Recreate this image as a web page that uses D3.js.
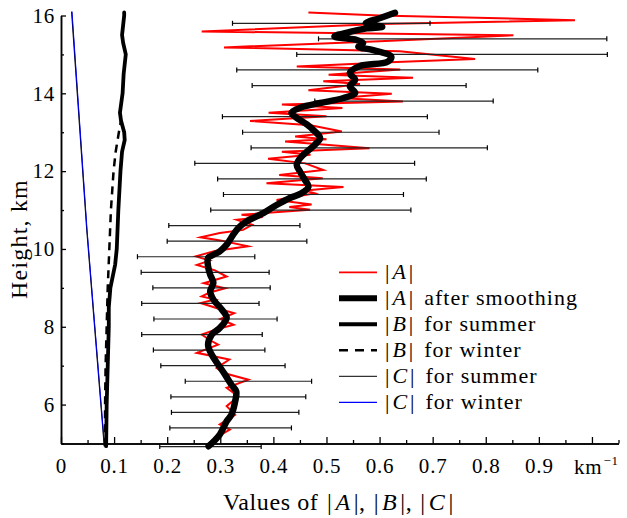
<!DOCTYPE html>
<html>
<head>
<meta charset="utf-8">
<script src="https://cdn.jsdelivr.net/npm/d3@7"></script>
<style>
  body { margin: 0; background: #fff; }
</style>
</head>
<body>
<div id="chart"></div>
<script>
// [height km, value km^-1]
const aRaw = [
  [16.08, 0.466], [16.00, 0.60], [15.88, 0.968], [15.78, 0.60], [15.59, 0.265],
  [15.49, 0.852], [15.34, 0.60], [15.18, 0.307], [15.08, 0.638], [14.88, 0.780],
  [14.80, 0.62], [14.69, 0.444], [14.61, 0.639], [14.48, 0.504], [14.40, 0.663],
  [14.31, 0.494], [14.24, 0.563], [14.08, 0.466], [13.99, 0.623], [13.88, 0.525],
  [13.79, 0.644], [13.71, 0.416], [13.62, 0.53], [13.50, 0.391], [13.41, 0.50],
  [13.29, 0.356], [13.18, 0.47], [13.02, 0.529], [12.89, 0.441], [12.82, 0.50],
  [12.76, 0.422], [12.59, 0.581], [12.50, 0.416], [12.42, 0.47], [12.32, 0.390],
  [12.20, 0.46], [12.03, 0.494], [11.90, 0.411], [11.82, 0.493], [11.69, 0.387],
  [11.59, 0.532], [11.50, 0.46], [11.43, 0.478], [11.26, 0.406], [11.14, 0.472],
  [11.08, 0.43], [11.01, 0.469], [10.88, 0.340], [10.82, 0.38], [10.75, 0.331],
  [10.62, 0.36], [10.49, 0.343], [10.41, 0.299], [10.30, 0.263], [10.22, 0.30],
  [10.07, 0.352], [9.95, 0.29], [9.81, 0.254], [9.70, 0.28], [9.59, 0.256],
  [9.45, 0.29], [9.29, 0.312], [9.12, 0.269], [8.99, 0.309], [8.88, 0.28],
  [8.78, 0.265], [8.70, 0.29], [8.61, 0.263], [8.45, 0.30], [8.35, 0.326],
  [8.20, 0.30], [8.05, 0.325], [7.92, 0.29], [7.80, 0.265], [7.66, 0.28],
  [7.54, 0.296], [7.33, 0.256], [7.16, 0.317], [6.94, 0.293], [6.80, 0.31],
  [6.64, 0.353], [6.43, 0.312], [6.21, 0.334], [5.96, 0.312], [5.74, 0.328],
  [5.49, 0.299], [5.36, 0.318], [5.14, 0.290], [4.93, 0.281]
];

const aSmooth = [
  [4.93, 0.278], [5.23, 0.299], [5.57, 0.312], [5.74, 0.321], [6.08, 0.328],
  [6.34, 0.330], [6.51, 0.321], [6.77, 0.309], [7.03, 0.296], [7.28, 0.284],
  [7.54, 0.277], [7.80, 0.284], [7.97, 0.299], [8.23, 0.312], [8.44, 0.303],
  [8.70, 0.287], [8.91, 0.281], [9.13, 0.287], [9.34, 0.281], [9.55, 0.277],
  [9.77, 0.277], [9.85, 0.287], [9.94, 0.299], [10.11, 0.312], [10.36, 0.324],
  [10.54, 0.334], [10.71, 0.350], [10.92, 0.381], [11.13, 0.406], [11.31, 0.431],
  [11.43, 0.453], [11.60, 0.466], [11.78, 0.459], [11.99, 0.450], [12.16, 0.444],
  [12.33, 0.450], [12.50, 0.463], [12.68, 0.478], [12.85, 0.488], [13.06, 0.475],
  [13.20, 0.463], [13.37, 0.444], [13.50, 0.434], [13.63, 0.450], [13.75, 0.488],
  [13.88, 0.532], [14.01, 0.554], [14.18, 0.544], [14.35, 0.554], [14.52, 0.544],
  [14.70, 0.563], [14.81, 0.615], [14.94, 0.622], [15.11, 0.588], [15.20, 0.560],
  [15.29, 0.569], [15.37, 0.557], [15.46, 0.515], [15.58, 0.544], [15.67, 0.576],
  [15.71, 0.605], [15.80, 0.574], [15.93, 0.600], [16.07, 0.629]
];

const bSummer = [
  [4.93, 0.085], [6, 0.086], [7, 0.088], [8, 0.090], [8.5, 0.090], [9, 0.093],
  [9.6, 0.102], [10, 0.105], [11, 0.108], [12, 0.112], [12.5, 0.115], [12.8, 0.120],
  [13.0, 0.119], [13.3, 0.113], [13.5, 0.111], [14, 0.116], [14.5, 0.118],
  [15, 0.122], [15.3, 0.117], [15.5, 0.115], [16, 0.119], [16.08, 0.119]
];

const bWinter = [
  [4.93, 0.083], [6, 0.083], [7, 0.084], [8, 0.086], [9, 0.088], [10, 0.091],
  [11, 0.094], [12, 0.099], [12.5, 0.103], [13.0, 0.109], [13.3, 0.113], [13.5, 0.111]
];

const cSummer = [[4.93, 0.0815], [10.5, 0.0485], [16.1, 0.0200]];
const cWinter = [[4.93, 0.0820], [10.5, 0.0490], [16.1, 0.0207]];

const errKm = [15.8, 15.4, 15.0, 14.6, 14.2, 13.8, 13.4, 13.0, 12.6, 12.2, 11.8, 11.4, 11.0, 10.6,
  10.2, 9.8, 9.4, 9.0, 8.6, 8.2, 7.8, 7.4, 7.0, 6.6, 6.2, 5.8, 5.4, 4.92];
const errLo = [0.323, 0.485, 0.444, 0.331, 0.360, 0.478, 0.304, 0.342, 0.358, 0.252, 0.295, 0.306, 0.282, 0.203,
  0.200, 0.144, 0.151, 0.173, 0.152, 0.175, 0.152, 0.174, 0.188, 0.234, 0.207, 0.208, 0.205, 0.186];
const errHi = [0.695, 1.028, 1.029, 0.898, 0.763, 0.814, 0.690, 0.712, 0.803, 0.666, 0.688, 0.645, 0.659, 0.450,
  0.463, 0.365, 0.392, 0.394, 0.373, 0.407, 0.379, 0.384, 0.422, 0.472, 0.461, 0.448, 0.434, 0.377];

const xMajor = [0, 0.1, 0.2, 0.3, 0.4, 0.5, 0.6, 0.7, 0.8, 0.9, 1.0];
const xMinor = [0.05, 0.15, 0.25, 0.35, 0.45, 0.55, 0.65, 0.75, 0.85, 0.95, 1.05];
const yMajor = [6, 8, 10, 12, 14, 16];
const yMinor = [5, 7, 9, 11, 13, 15];

const legendItems = [
  { sym: 'A', text: '', color: '#ff0000', width: 1.8, dash: null },
  { sym: 'A', text: 'after smoothing', color: '#000', width: 6, dash: null },
  { sym: 'B', text: 'for summer', color: '#000', width: 4, dash: null },
  { sym: 'B', text: 'for winter', color: '#000', width: 2.5, dash: '9,7' },
  { sym: 'C', text: 'for summer', color: '#000', width: 1, dash: null },
  { sym: 'C', text: 'for winter', color: '#0000ff', width: 1.2, dash: null }
];

const SERIF = "'Liberation Serif', 'Times New Roman', serif";
const width = 627, height = 518;
const svg = d3.select('#chart').append('svg')
  .attr('width', width).attr('height', height)
  .attr('font-family', SERIF);

const x = d3.scaleLinear().domain([0, 1.05]).range([61, 618.5]);
const y = d3.scaleLinear().domain([5, 16]).range([443.5, 15.5]);

const line = d3.line().x(d => x(d[1])).y(d => y(d[0]));

// axes
const xAxisMinor = d3.axisBottom(x).tickValues(xMinor).tickSizeInner(-3.5).tickSizeOuter(0).tickFormat('');
const xAxis = d3.axisBottom(x).tickValues(xMajor).tickSizeInner(-6.5).tickSizeOuter(0).tickPadding(15)
  .tickFormat(d => d === 1.0 ? '' : (d === 0 ? '0' : d3.format('.1f')(d)));
const yAxisMinor = d3.axisLeft(y).tickValues(yMinor).tickSizeInner(-3).tickSizeOuter(0).tickFormat('');
const yAxis = d3.axisLeft(y).tickValues(yMajor).tickSizeInner(-5).tickSizeOuter(0).tickPadding(6);

function styleAxis(g) {
  g.attr('font-family', SERIF).attr('font-size', 21);
  g.selectAll('path.domain').attr('stroke', '#000').attr('stroke-width', 1.5);
  g.selectAll('.tick line').attr('stroke', '#000').attr('stroke-width', 1.3);
  g.selectAll('.tick text').attr('fill', '#000').style('letter-spacing', '0.8px');
}

svg.append('g').attr('transform', 'translate(0,443.5)').call(xAxisMinor).call(styleAxis);
svg.append('g').attr('transform', 'translate(0,443.5)').call(xAxis).call(styleAxis);
svg.append('g').attr('transform', 'translate(61,0)').call(yAxisMinor).call(styleAxis);
svg.append('g').attr('transform', 'translate(61,0)').call(yAxis).call(styleAxis);

// km^-1 unit label in place of 1.0
const unit = svg.append('text')
  .attr('x', x(1.0) - 18).attr('y', 473.5)
  .attr('font-size', 21).style('letter-spacing', '0.8px');
unit.append('tspan').text('km');
unit.append('tspan').attr('dx', 1).attr('dy', -9).attr('font-size', 13).text('\u22121');

// series
svg.append('path').datum(aRaw).attr('d', line)
  .attr('fill', 'none').attr('stroke', '#ff0000').attr('stroke-width', 2)
  .attr('stroke-linejoin', 'miter').attr('stroke-miterlimit', 6);

const bars = svg.append('g').attr('class', 'errbars');
errKm.forEach((k, i) => {
  const yy = y(k);
  bars.append('line')
    .attr('x1', x(errLo[i])).attr('x2', x(errHi[i]))
    .attr('y1', yy).attr('y2', yy)
    .attr('stroke', '#222').attr('stroke-width', 1.2);
  [errLo[i], errHi[i]].forEach(v => {
    bars.append('line')
      .attr('x1', x(v)).attr('x2', x(v))
      .attr('y1', yy - 2.5).attr('y2', yy + 2.5)
      .attr('stroke', '#000').attr('stroke-width', 1.2);
  });
});

svg.append('path').datum(cSummer).attr('d', line)
  .attr('fill', 'none').attr('stroke', '#000').attr('stroke-width', 1.2);
svg.append('path').datum(cWinter).attr('d', line)
  .attr('fill', 'none').attr('stroke', '#0000ff').attr('stroke-width', 1);

svg.append('path').datum(bWinter).attr('d', line)
  .attr('fill', 'none').attr('stroke', '#000').attr('stroke-width', 2.5)
  .attr('stroke-dasharray', '8,6');
svg.append('path').datum(bSummer).attr('d', line)
  .attr('fill', 'none').attr('stroke', '#000').attr('stroke-width', 3.8)
  .attr('stroke-linejoin', 'round').attr('stroke-linecap', 'round');

svg.append('path').datum(aSmooth).attr('d', line.curve(d3.curveCatmullRom))
  .attr('fill', 'none').attr('stroke', '#000').attr('stroke-width', 6.5)
  .attr('stroke-linejoin', 'round').attr('stroke-linecap', 'round');

// legend
const legend = svg.append('g').attr('class', 'legend');
legendItems.forEach((it, i) => {
  const ly = 272.3 + i * 26;
  legend.append('line')
    .attr('x1', 339).attr('x2', 377).attr('y1', ly).attr('y2', ly)
    .attr('stroke', it.color).attr('stroke-width', it.width)
    .attr('stroke-dasharray', it.dash);
  const t = legend.append('text').attr('x', 385).attr('y', ly + 7)
    .attr('font-size', 22).style('letter-spacing', '1px');
  t.append('tspan').text('|');
  t.append('tspan').attr('dx', 2).attr('font-style', 'italic').text(it.sym);
  t.append('tspan').attr('dx', 2).text('|');
  if (it.text) t.append('tspan').attr('dx', 10).text(it.text);
});

// axis titles
const xt = svg.append('text').attr('x', 223).attr('y', 510)
  .attr('font-size', 24).style('letter-spacing', '0.6px');
xt.append('tspan').text('Values of ');
['A', 'B', 'C'].forEach((s, i) => {
  xt.append('tspan').attr('dx', i ? 8 : 2).text('|');
  xt.append('tspan').attr('dx', 3).attr('font-style', 'italic').text(s);
  xt.append('tspan').attr('dx', 3).text(i < 2 ? '|,' : '|');
});

svg.append('text')
  .attr('transform', 'translate(27,239) rotate(-90)')
  .attr('text-anchor', 'middle')
  .attr('font-size', 24).style('letter-spacing', '1.2px')
  .text('Height, km');
</script>
</body>
</html>
